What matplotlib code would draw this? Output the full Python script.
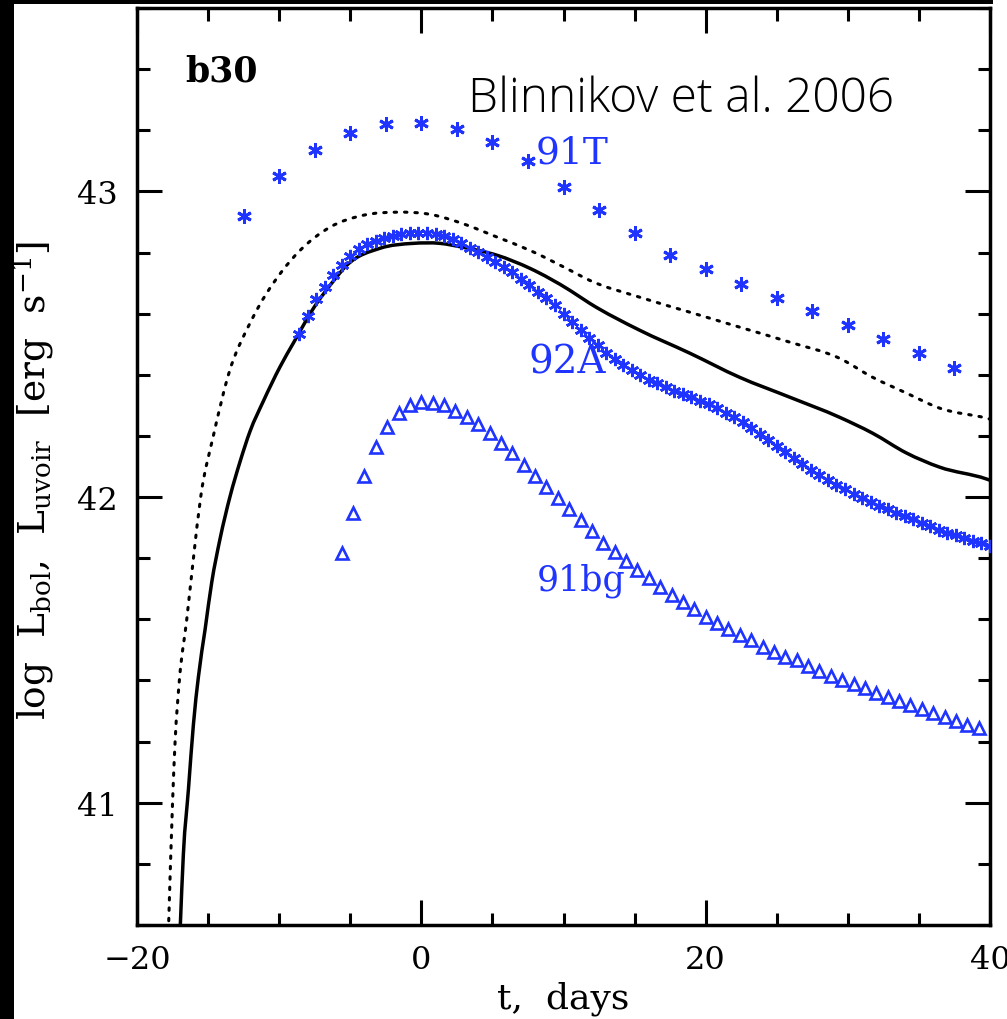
import matplotlib
matplotlib.use("Agg")
import matplotlib.pyplot as plt
from matplotlib.patches import Rectangle, PathPatch
from matplotlib.path import Path
from matplotlib.ticker import MultipleLocator

# ---------------- data ----------------
# model b30: solid line (L_bol) and dotted line (L_uvoir)
solid_t = [-16.97, -16.74, -16.38, -16.03, -15.68, -15.21, -14.74, -14.16, -13.45,
           -12.75, -12.05, -11.11, -9.94, -9.0, -7.5, -6.3, -5.25, -2.9, -0.58,
           1.32, 2.94, 5.33, 7.65, 10.46, 11.84, 15.35, 18.87, 22.38, 25.9, 29.42,
           31.74, 34.13, 36.45, 39.76, 40.0]
solid_L = [40.58, 40.83, 41.045, 41.257, 41.412, 41.567, 41.722, 41.863, 42.003,
           42.116, 42.215, 42.314, 42.426, 42.504, 42.624, 42.70, 42.758, 42.814, 42.830,
           42.830, 42.817, 42.791, 42.748, 42.676, 42.634, 42.546, 42.471, 42.392, 42.327, 42.261,
           42.209, 42.144, 42.098, 42.059, 42.055]

dotted_t = [-17.79, -17.5, -17.32, -17.02, -16.5, -16.03, -15.52, -14.63, -13.57,
            -11.93, -9.93, -8.53, -6.42, -4.08, -1.73, 0.61, 2.95, 5.3, 7.64,
            10.46, 11.84, 15.35, 18.87, 22.38, 25.9, 29.42, 31.74, 34.13, 36.45, 39.76, 40.0]
dotted_L = [40.58, 41.0, 41.2, 41.4, 41.6, 41.8, 42.0, 42.2, 42.4,
            42.58, 42.731, 42.807, 42.883, 42.922, 42.932, 42.925, 42.894, 42.851, 42.807,
            42.742, 42.709, 42.654, 42.605, 42.556, 42.507, 42.454, 42.392, 42.34, 42.291, 42.258, 42.255]

# SN 1991T
t_91T = [-12.5, -10.0, -7.5, -5.0, -2.5, 0.0, 2.5, 5.0, 7.5, 10.0, 12.5, 15.0,
         17.5, 20.0, 22.5, 25.0, 27.5, 30.0, 32.5, 35.0, 37.5]
L_91T = [42.918, 43.052, 43.134, 43.190, 43.219, 43.225, 43.203, 43.160, 43.098,
         43.016, 42.938, 42.863, 42.791, 42.745, 42.696, 42.650, 42.608, 42.562,
         42.516, 42.471, 42.422]

# SN 1992A
t_92A = [-8.6, -8.0, -7.4, -6.8, -6.2, -5.6, -5.0, -4.4, -3.8, -3.2, -2.6, -2.0,
         -1.4, -0.8, -0.2, 0.4, 1.0, 1.6, 2.2, 2.8, 3.4, 4.0, 4.6, 5.2, 5.8, 6.4,
         7.0, 7.6, 8.2, 8.8, 9.4, 10.0, 10.6, 11.2, 11.8, 12.4, 13.0, 13.6, 14.2,
         14.8, 15.4, 16.0, 16.6, 17.2, 17.8, 18.4, 19.0, 19.6, 20.2, 20.8, 21.4,
         22.0, 22.6, 23.2, 23.8, 24.4, 25.0, 25.6, 26.2, 26.8, 27.4, 28.0, 28.6,
         29.2, 29.8, 30.4, 31.0, 31.6, 32.2, 32.8, 33.4, 34.0, 34.6, 35.2, 35.8,
         36.4, 37.0, 37.6, 38.2, 38.8, 39.4, 40.0]
L_92A = [42.534, 42.594, 42.649, 42.688, 42.725, 42.759, 42.789, 42.811, 42.827,
         42.837, 42.848, 42.855, 42.860, 42.863, 42.865, 42.864, 42.859, 42.853,
         42.844, 42.831, 42.816, 42.801, 42.786, 42.770, 42.753, 42.735, 42.715,
         42.695, 42.672, 42.650, 42.627, 42.600, 42.572, 42.547, 42.522, 42.497,
         42.472, 42.452, 42.433, 42.415, 42.398, 42.384, 42.372, 42.360, 42.348,
         42.337, 42.326, 42.315, 42.303, 42.290, 42.276, 42.262, 42.246, 42.227,
         42.207, 42.187, 42.168, 42.148, 42.128, 42.109, 42.090, 42.073, 42.056,
         42.040, 42.025, 42.011, 41.997, 41.983, 41.971, 41.960, 41.949, 41.938,
         41.927, 41.916, 41.904, 41.893, 41.884, 41.875, 41.866, 41.857, 41.849, 41.840]

# SN 1991bg
t_91bg = [-5.6, -4.8, -4.0, -3.2, -2.4, -1.6, -0.8, 0.0, 0.8, 1.6, 2.4, 3.2, 4.0,
          4.8, 5.6, 6.4, 7.2, 8.0, 8.8, 9.6, 10.4, 11.2, 12.0, 12.8, 13.6, 14.4,
          15.2, 16.0, 16.8, 17.6, 18.4, 19.2, 20.0, 20.8, 21.6, 22.4, 23.2, 24.0,
          24.8, 25.6, 26.4, 27.2, 28.0, 28.8, 29.6, 30.4, 31.2, 32.0, 32.8, 33.6,
          34.4, 35.2, 36.0, 36.8, 37.6, 38.4, 39.2]
L_91bg = [41.817, 41.948, 42.069, 42.163, 42.229, 42.275, 42.301, 42.310, 42.307,
          42.301, 42.281, 42.261, 42.239, 42.209, 42.176, 42.144, 42.105, 42.069,
          42.033, 41.997, 41.961, 41.925, 41.889, 41.851, 41.820, 41.792, 41.763,
          41.735, 41.707, 41.680, 41.658, 41.633, 41.609, 41.587, 41.568, 41.549,
          41.533, 41.511, 41.494, 41.478, 41.467, 41.448, 41.432, 41.415, 41.402,
          41.389, 41.375, 41.358, 41.347, 41.334, 41.320, 41.306, 41.293, 41.282,
          41.269, 41.255, 41.244]

x_ticks = [-20, 0, 20, 40]
y_ticks = [41, 42, 43]


def smooth_path(xs, ys):
    """Smooth cubic Bezier path through the read points (drawing only)."""
    n = len(xs)
    h = [xs[i + 1] - xs[i] for i in range(n - 1)]
    d = [(ys[i + 1] - ys[i]) / h[i] for i in range(n - 1)]
    m = [d[0]]
    for i in range(1, n - 1):
        m.append((d[i - 1] * h[i] + d[i] * h[i - 1]) / (h[i - 1] + h[i]))
    m.append(d[-1])
    verts = [(xs[0], ys[0])]
    codes = [Path.MOVETO]
    for i in range(n - 1):
        verts += [(xs[i] + h[i] / 3, ys[i] + m[i] * h[i] / 3),
                  (xs[i + 1] - h[i] / 3, ys[i + 1] - m[i + 1] * h[i] / 3),
                  (xs[i + 1], ys[i + 1])]
        codes += [Path.CURVE4] * 3
    return Path(verts, codes)


# ---------------- figure ----------------
plt.rcParams['font.family'] = ['DejaVu Serif']
plt.rcParams['mathtext.fontset'] = 'dejavuserif'

W, H = 1007, 1020
fig = plt.figure(figsize=(W / 100, H / 100), dpi=100, facecolor='white')

# black screen borders (left and top)
fig.patches.append(Rectangle((0, 0), 14 / W, 1, transform=fig.transFigure,
                             facecolor='black', edgecolor='none', zorder=0))
fig.patches.append(Rectangle((0, 1 - 5 / H), 993 / W, 5 / H, transform=fig.transFigure,
                             facecolor='black', edgecolor='none', zorder=0))

ax = fig.add_axes([137 / W, 1 - 926 / H, (990 - 137) / W, (926 - 9) / H])
ax.set_xlim(-20, 40)
ax.set_ylim(40.6, 43.6)

BLUE = '#1f35ff'
star = (6, 2, 0)

ax.add_patch(PathPatch(smooth_path(dotted_t, dotted_L), facecolor='none',
                       edgecolor='black', lw=2.2, linestyle=(0, (0.8, 2.6)),
                       capstyle='round', zorder=2))
ax.add_patch(PathPatch(smooth_path(solid_t, solid_L), facecolor='none',
                       edgecolor='black', lw=2.5, zorder=3))
ax.plot(t_91T, L_91T, linestyle='none', marker=star, markersize=10.5,
        markeredgewidth=2.1, color=BLUE, zorder=4)
ax.plot(t_92A, L_92A, linestyle='none', marker=star, markersize=9.5,
        markeredgewidth=1.9, color=BLUE, zorder=4)
ax.plot(t_91bg, L_91bg, linestyle='none', marker='^', markersize=8.5,
        markeredgewidth=1.9, markerfacecolor='none', markeredgecolor=BLUE, zorder=4)

# labels on curves
ax.text(8.05, 43.095, '91T', color=BLUE, fontsize=27)
ax.text(7.55, 42.408, '92A', color=BLUE, fontsize=28)
ax.text(8.14, 41.696, '91bg', color=BLUE, fontsize=25)
ax.text(-16.6, 43.363, 'b30', color='black', fontsize=25, fontweight='bold')

fig.text(468 / W, 1 - 112 / H, 'Blinnikov et al. 2006', fontsize=34.5,
         family=['Open Sans', 'DejaVu Sans'], fontweight='light',
         color='black', va='baseline', ha='left')

# axes styling
for s in ax.spines.values():
    s.set_linewidth(2.5)
ax.set_xticks(x_ticks)
ax.set_yticks(y_ticks)
ax.xaxis.set_minor_locator(MultipleLocator(5))
ax.yaxis.set_minor_locator(MultipleLocator(0.2))
ax.tick_params(which='both', direction='in', top=True, right=True, width=2.2,
               labelsize=23)
ax.tick_params(which='major', length=18)
ax.tick_params(which='minor', length=9)
ax.tick_params(axis='x', which='major', pad=14)
ax.tick_params(axis='y', which='major', pad=14)

ax.set_xlabel('t,  days', fontsize=26)
ax.xaxis.set_label_coords(0.5, -(982 - 926) / (926 - 9))
ax.set_ylabel(r'log  L$_{\rm bol}$,  L$_{\rm uvoir}$  [erg  s$^{-1}$]', fontsize=27)
ax.yaxis.set_label_coords(-(137 - 56) / (990 - 137), 0.5 - 13 / 917)

fig.savefig('out.png', dpi=100, facecolor='white')
